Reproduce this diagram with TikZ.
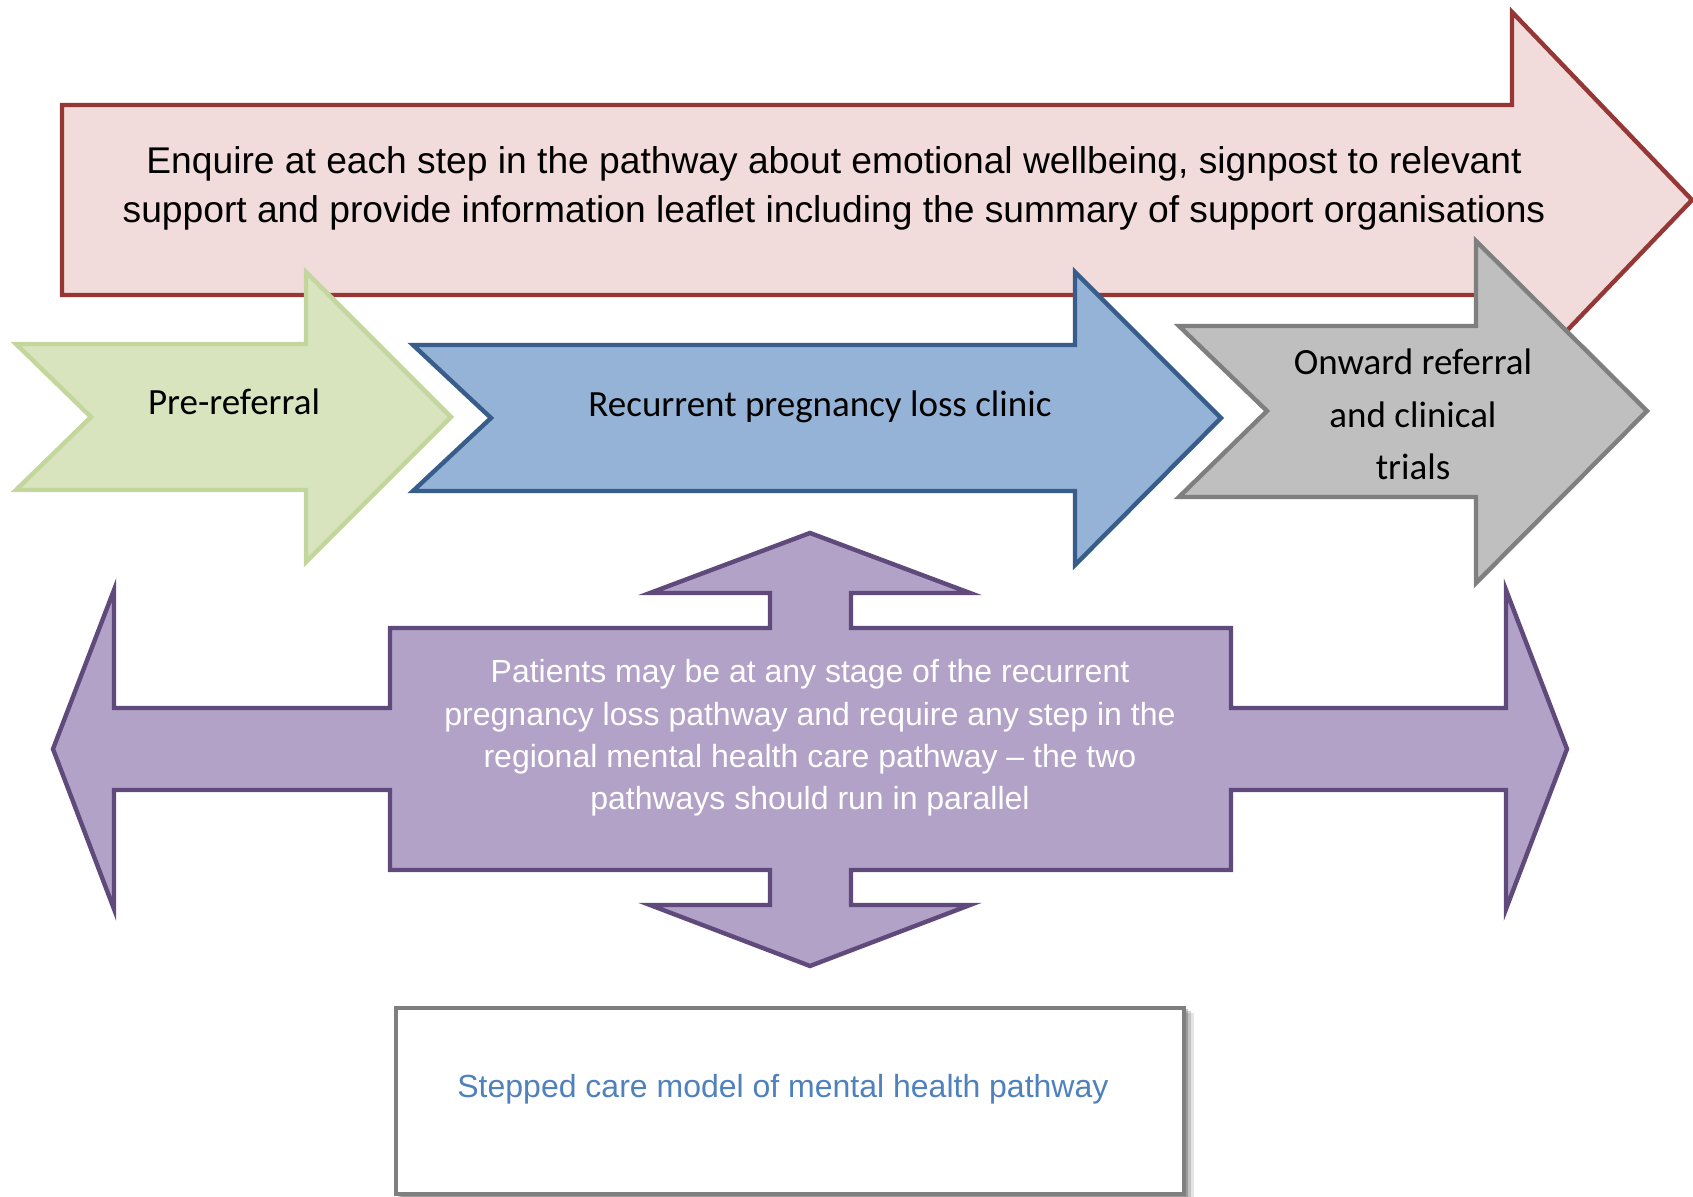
\documentclass[tikz,border=0pt]{standalone}
\usepackage{fontspec}
\setmainfont{Liberation Sans}
\newfontfamily\calib{Carlito}
\definecolor{redfill}{HTML}{F2DCDB}
\definecolor{redline}{HTML}{953735}
\definecolor{greenfill}{HTML}{D7E4BD}
\definecolor{greenline}{HTML}{C3D69B}
\definecolor{bluefill}{HTML}{95B3D7}
\definecolor{blueline}{HTML}{385D8A}
\definecolor{greyfill}{HTML}{BFBFBF}
\definecolor{greyline}{HTML}{7F7F7F}
\definecolor{purplefill}{HTML}{B2A2C7}
\definecolor{purpleline}{HTML}{604A7B}
\definecolor{linktext}{HTML}{4F81BD}
\begin{document}
\begin{tikzpicture}[x=0.5pt,y=-0.5pt,
  basearrow/.style={line width=2.2pt, line join=miter},
  redarrow/.style={basearrow, fill=redfill, draw=redline},
  greenarrow/.style={basearrow, fill=greenfill, draw=greenline},
  bluearrow/.style={basearrow, fill=bluefill, draw=blueline},
  greyarrow/.style={basearrow, fill=greyfill, draw=greyline},
  purplearrow/.style={basearrow, fill=purplefill, draw=purpleline},
  txtline/.style={inner sep=0pt, anchor=base},
  redtxt/.style={txtline, font=\fontsize{18.6pt}{22pt}\selectfont},
  caltxt/.style={txtline, font=\calib\fontsize{18.5pt}{22pt}\selectfont},
  whitetxt/.style={txtline, text=white, font=\fontsize{16pt}{20pt}\selectfont},
  linktxt/.style={inner sep=0pt, anchor=base west, text=linktext, font=\fontsize{16pt}{20pt}\selectfont}]
\useasboundingbox (0,0) rectangle (1693,1197);
\fill[white] (0,0) rectangle (1693,1197);

% red wide arrow
\draw[redarrow] (62,105) -- (1512,105) -- (1512,12) -- (1692,200) -- (1512,388) -- (1512,295) -- (62,295) -- cycle;
\node[redtxt] (red1) at (834,174) {Enquire at each step in the pathway about emotional wellbeing, signpost to relevant};
\node[redtxt] (red2) at (834,223) {support and provide information leaflet including the summary of support organisations};

% green chevron
\draw[greenarrow] (16,344) -- (306,344) -- (306,272) -- (451,417) -- (306,562) -- (306,490) -- (16,490) -- (91,417) -- cycle;
\node[caltxt] (pre) at (234,415) {Pre-referral};

% blue chevron
\draw[bluearrow] (413,345) -- (1075,345) -- (1075,272) -- (1221,418) -- (1075,565) -- (1075,491) -- (413,491) -- (491,418) -- cycle;
\node[caltxt] (rpl) at (820,417) {Recurrent pregnancy loss clinic};

% grey chevron
\draw[greyarrow] (1179,326) -- (1476,326) -- (1476,241) -- (1647,411) -- (1476,583) -- (1476,497) -- (1179,497) -- (1267,411) -- cycle;
\node[caltxt] (on1) at (1413,375) {Onward referral};
\node[caltxt] (on2) at (1413,428) {and clinical};
\node[caltxt] (on3) at (1413,480) {trials};

% purple four-way arrow
\draw[purplearrow] (53,749) -- (114,590) -- (114,708) -- (390,708) -- (390,628) -- (770,628) -- (770,593) -- (650,593) -- (810,533) -- (970,593) -- (851,593) -- (851,628) -- (1231,628) -- (1231,708) -- (1506,708) -- (1506,590) -- (1567,749) -- (1506,909) -- (1506,790) -- (1231,790) -- (1231,870) -- (851,870) -- (851,905) -- (970,905) -- (810,966) -- (650,905) -- (770,905) -- (770,870) -- (390,870) -- (390,790) -- (114,790) -- (114,909) -- cycle;
\node[whitetxt] (p1) at (810,683) {Patients may be at any stage of the recurrent};
\node[whitetxt] (p2) at (810,725.5) {pregnancy loss pathway and require any step in the};
\node[whitetxt] (p3) at (810,768) {regional mental health care pathway – the two};
\node[whitetxt] (p4) at (810,810) {pathways should run in parallel};

% bottom box with shadow
\fill[black, opacity=0.10] (402,1013) rectangle (1194,1210);
\fill[black, opacity=0.15] (400,1011) rectangle (1191,1210);
\fill[black, opacity=0.20] (398,1009) rectangle (1188,1210);
\draw[fill=white, draw=greyline, line width=1.6pt] (396,1008) rectangle (1184,1194);
\node[linktxt] (step) at (457,1097) {Stepped care model of mental health pathway};
\end{tikzpicture}
\end{document}
